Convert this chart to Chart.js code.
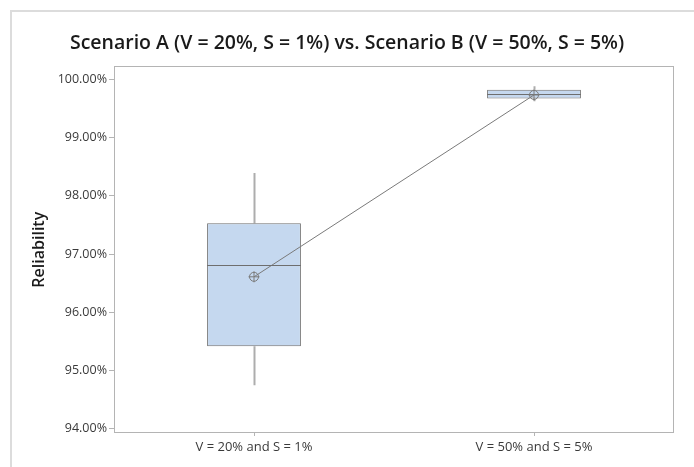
<!DOCTYPE html>
<html>
<head>
<meta charset="utf-8">
<script src="https://cdn.jsdelivr.net/npm/chart.js@4.4.1/dist/chart.umd.min.js"></script>
<style>
  html, body { margin: 0; padding: 0; background: #ffffff; }
  #wrap { width: 694px; height: 467px; position: relative; }
</style>
</head>
<body>
<div id="wrap"><canvas id="c" width="694" height="467"></canvas></div>
<script>
// Reliability summary for the two scenarios (percent)
const categories = ['V = 20% and S = 1%', 'V = 50% and S = 5%'];
const whiskerLow = [94.75, 99.62];
const q1 = [95.42, 99.67];
const median = [96.81, 99.74];
const q3 = [97.53, 99.82];
const whiskerHigh = [98.39, 99.88];
const means = [96.61, 99.73];
const yTicks = [94, 95, 96, 97, 98, 99, 100];

const boxFill = '#c5d8ef';
const boxEdge = '#6e6e6e';
const whiskerColor = '#adadad';
const meanColor = '#7a7a7a';

// Whiskers, medians, mean symbols, plot frame and outer panel edges
const boxPlotPlugin = {
  id: 'boxPlotParts',
  beforeDraw(chart) {
    const ctx = chart.ctx;
    ctx.save();
    ctx.strokeStyle = '#dcdcdc';
    ctx.lineWidth = 2;
    ctx.beginPath();
    ctx.moveTo(11, chart.height);
    ctx.lineTo(11, 11);
    ctx.lineTo(chart.width, 11);
    ctx.stroke();
    ctx.restore();
  },
  beforeDatasetsDraw(chart) {
    const ctx = chart.ctx;
    const x = chart.scales.x, y = chart.scales.y;
    ctx.save();
    ctx.strokeStyle = whiskerColor;
    ctx.lineWidth = 2;
    categories.forEach((c, i) => {
      const px = Math.round(x.getPixelForValue(i)) + 0.5;
      ctx.beginPath();
      ctx.moveTo(px, y.getPixelForValue(q3[i]));
      ctx.lineTo(px, y.getPixelForValue(whiskerHigh[i]));
      ctx.moveTo(px, y.getPixelForValue(q1[i]));
      ctx.lineTo(px, y.getPixelForValue(whiskerLow[i]));
      ctx.stroke();
    });
    ctx.restore();
  },
  afterDatasetsDraw(chart) {
    const ctx = chart.ctx;
    const y = chart.scales.y;
    const boxMeta = chart.getDatasetMeta(0);
    const meanMeta = chart.getDatasetMeta(1);
    ctx.save();
    ctx.strokeStyle = boxEdge;
    ctx.lineWidth = 1;
    boxMeta.data.forEach((bar, i) => {
      const half = bar.width / 2;
      const py = Math.round(y.getPixelForValue(median[i])) + 0.5;
      ctx.beginPath();
      ctx.moveTo(bar.x - half, py);
      ctx.lineTo(bar.x + half, py);
      ctx.stroke();
    });
    ctx.strokeStyle = meanColor;
    meanMeta.data.forEach(pt => {
      ctx.beginPath();
      ctx.arc(pt.x, pt.y, 4.5, 0, Math.PI * 2);
      ctx.moveTo(pt.x - 5.5, pt.y);
      ctx.lineTo(pt.x + 5.5, pt.y);
      ctx.moveTo(pt.x, pt.y - 5.5);
      ctx.lineTo(pt.x, pt.y + 5.5);
      ctx.stroke();
    });
    const a = chart.chartArea;
    ctx.strokeStyle = '#b4b4b4';
    ctx.lineWidth = 1;
    ctx.strokeRect(Math.round(a.left) + 0.5, Math.round(a.top) + 0.5,
      Math.round(a.right - a.left) - 1, Math.round(a.bottom - a.top) - 1);
    ctx.restore();
  }
};

new Chart(document.getElementById('c'), {
  data: {
    labels: categories,
    datasets: [
      {
        type: 'bar',
        data: categories.map((c, i) => [q1[i], q3[i]]),
        backgroundColor: boxFill,
        borderColor: boxEdge,
        borderWidth: 1,
        borderSkipped: false,
        barPercentage: 0.335,
        categoryPercentage: 1.0,
        order: 2
      },
      {
        type: 'line',
        data: means,
        borderColor: meanColor,
        borderWidth: 1,
        pointRadius: 0,
        fill: false,
        tension: 0,
        order: 1
      }
    ]
  },
  options: {
    responsive: false,
    animation: false,
    layout: { padding: { left: 20, right: 20, top: 0, bottom: 10 } },
    plugins: {
      legend: { display: false },
      tooltip: { enabled: false },
      title: {
        display: true,
        text: 'Scenario A (V = 20%, S = 1%) vs. Scenario B (V = 50%, S = 5%)',
        color: '#1a1a1a',
        font: { family: 'Open Sans', size: 19.5, weight: '600', lineHeight: 1.2 },
        padding: { top: 32, bottom: 11 }
      }
    },
    scales: {
      x: {
        type: 'category',
        offset: true,
        grid: { display: true, drawOnChartArea: false, offset: false, tickLength: 3, color: '#b4b4b4' },
        border: { display: false },
        ticks: { color: '#3a3a3a', font: { family: 'Open Sans', size: 13 }, padding: 3, maxRotation: 0 },
        afterFit: s => { s.height = 24; }
      },
      y: {
        type: 'linear',
        min: 93.93,
        max: 100.22,
        afterBuildTicks: s => { s.ticks = yTicks.map(v => ({ value: v })); },
        grid: { display: true, drawOnChartArea: false, tickLength: 5, color: '#b4b4b4' },
        border: { display: false },
        ticks: {
          color: '#3a3a3a',
          font: { family: 'Open Sans', size: 12.5 },
          padding: 2,
          callback: v => v.toFixed(2) + '%'
        },
        title: {
          display: true,
          text: 'Reliability',
          color: '#1a1a1a',
          font: { family: 'Open Sans', size: 16, weight: '600' },
          padding: { top: 10, bottom: 0 }
        },
        afterFit: s => { s.width = 94; }
      }
    }
  },
  plugins: [boxPlotPlugin]
});
</script>
</body>
</html>
